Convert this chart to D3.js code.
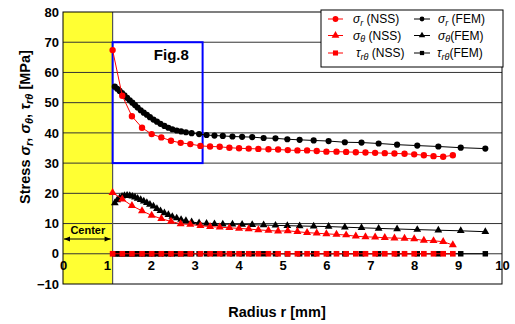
<!DOCTYPE html>
<html><head><meta charset="utf-8">
<script src="https://cdn.jsdelivr.net/npm/d3@7"></script>
<style>
body{margin:0;background:#fff}
svg text{font-family:"Liberation Sans",Arial,Helvetica,sans-serif}
</style>
</head><body>
<svg id="c" width="515" height="324"></svg>
<script>
// ---- data ----
const nssR = [1.13,1.35,1.57,1.80,2.02,2.24,2.46,2.68,2.90,3.13,3.35,3.57,3.79,4.01,4.23,4.45,4.68,4.90,5.12,5.34,5.56,5.78,6.00,6.23,6.45,6.67,6.89,7.11,7.33,7.55,7.78,8.00,8.22,8.44,8.66,8.88];
const nssSigmaR = [67.4,52.3,45.5,41.7,39.6,38.5,37.4,36.7,36.3,35.7,35.5,35.4,35.1,34.9,34.8,34.7,34.6,34.5,34.3,34.2,34.2,34.0,33.8,33.8,33.7,33.6,33.5,33.4,33.3,33.2,33.1,32.9,32.6,32.3,32.1,32.6];
const nssSigmaT = [20.2,18.1,15.9,14.2,12.7,11.6,10.7,9.9,9.7,9.3,9.0,8.8,8.6,8.4,8.2,7.9,7.7,7.5,7.6,7.3,7.0,6.8,6.6,6.4,6.2,5.8,5.6,5.5,5.3,5.2,5.1,4.9,4.4,4.3,4.0,2.9];
const nssTau = [0,0,0,0,0,0,0,0,0,0,0,0,0,0,0,0,0,0,0,0,0,0,0,0,0,0,0,0,0,0,0,0,0,0,0,0];

const femR = [1.18,1.235,1.29,1.345,1.40,1.46,1.52,1.58,1.64,1.70,1.77,1.84,1.91,1.98,2.06,2.14,2.22,2.31,2.40,2.49,2.59,2.69,2.80,2.93,3.10,3.27,3.45,3.64,3.86,4.08,4.31,4.57,4.84,5.11,5.39,5.71,6.05,6.42,6.80,7.19,7.61,8.07,8.55,9.06,9.62];
const femSigmaR = [55.3,54.6,53.9,53.2,52.4,51.6,50.8,50.0,49.2,48.4,47.5,46.7,46.0,45.2,44.4,43.7,43.0,42.3,41.7,41.2,40.8,40.5,40.2,39.9,39.6,39.3,39.1,39.0,38.8,38.7,38.6,38.3,38.2,37.9,37.7,37.5,37.3,36.9,36.8,36.5,36.1,35.8,35.5,35.1,34.8];
const femSigmaT = [16.8,17.8,18.5,19.0,19.2,19.3,19.2,19.0,18.7,18.3,17.9,17.4,16.9,16.3,15.7,14.9,14.2,13.5,12.9,12.3,11.8,11.3,10.9,10.5,10.2,10.0,9.9,9.8,9.8,9.7,9.6,9.5,9.4,9.3,9.2,9.1,9.0,8.8,8.6,8.4,8.2,8.0,7.8,7.6,7.3];
const femTau = [0,0,0,0,0,0,0,0,0,0,0,0,0,0,0,0,0,0,0,0,0,0,0,0,0,0,0,0,0,0,0,0,0,0,0,0,0,0,0,0,0,0,0,0,0];

const xTicks = [0,1,2,3,4,5,6,7,8,9,10];
const yTicks = [-10,0,10,20,30,40,50,60,70,80];
const gridValues = [0,10,20,30,40,50,60,70];
const centerEdge = 1.13;
const zoomBox = {r0:1.13, r1:3.18, s0:30, s1:70};

// ---- scales ----
const svg = d3.select('#c');
const x = d3.scaleLinear().domain([0,10]).range([63,502]);
const y = d3.scaleLinear().domain([-10,80]).range([284,12]);

// yellow center region
svg.append('rect').attr('x',x(0)).attr('y',y(80)).attr('width',x(centerEdge)-x(0)).attr('height',y(-10)-y(80)).attr('fill','#ffff33');

// gridlines
svg.append('g').selectAll('line').data(gridValues).join('line')
  .attr('x1',x(0)).attr('x2',x(10)).attr('y1',d=>y(d)).attr('y2',d=>y(d))
  .attr('stroke','#333').attr('stroke-width',1);

// center boundary line
svg.append('line').attr('x1',x(centerEdge)).attr('x2',x(centerEdge)).attr('y1',y(80)).attr('y2',y(-10)).attr('stroke','#555').attr('stroke-width',1.2);

// frame
svg.append('rect').attr('x',x(0)).attr('y',y(80)).attr('width',x(10)-x(0)).attr('height',y(-10)-y(80)).attr('fill','none').attr('stroke','#000').attr('stroke-width',1);

// y axis
const yAxis = svg.append('g').attr('transform',`translate(${x(0)},0)`)
  .call(d3.axisLeft(y).tickValues(yTicks).tickSize(0).tickPadding(4));
yAxis.select('.domain').remove();
yAxis.selectAll('text').attr('font-size',13).attr('font-weight','bold').attr('fill','#000');

// x axis (labels along zero line)
const xAxis = svg.append('g').attr('transform',`translate(0,${y(0)})`)
  .call(d3.axisBottom(x).tickValues(xTicks).tickSize(0).tickPadding(7).tickFormat(d3.format('d')));
xAxis.select('.domain').remove();
xAxis.selectAll('text').attr('font-size',13).attr('font-weight','bold').attr('fill','#000');

// blue zoom box
svg.append('rect').attr('x',x(zoomBox.r0)).attr('y',y(zoomBox.s1))
  .attr('width',x(zoomBox.r1)-x(zoomBox.r0)).attr('height',y(zoomBox.s0)-y(zoomBox.s1))
  .attr('fill','none').attr('stroke','#0000ff').attr('stroke-width',2);
svg.append('text').attr('x',x(2.07)).attr('y',60).attr('font-size',15).attr('font-weight','bold').text('Fig.8');

// center annotation
svg.append('text').attr('x',(x(0)+x(centerEdge))/2).attr('y',234).attr('text-anchor','middle').attr('font-size',11).attr('font-weight','bold').text('Center');
const ay = 239;
svg.append('line').attr('x1',x(0)+1).attr('x2',x(centerEdge)-2).attr('y1',ay).attr('y2',ay).attr('stroke','#000').attr('stroke-width',1);
svg.append('path').attr('d',`M${x(0)+1},${ay} l6,-2.5 l0,5 Z M${x(centerEdge)-2},${ay} l-6,-2.5 l0,5 Z`).attr('fill','#000');

// series
const line = d3.line().x(d=>x(d[0])).y(d=>y(d[1]));
function series(rs, vs, color, shape, size){
  const pts = rs.map((r,i)=>[r,vs[i]]);
  const g = svg.append('g');
  g.append('path').attr('d',line(pts)).attr('fill','none').attr('stroke',color).attr('stroke-width',1);
  g.selectAll('path.m').data(pts).join('path').attr('class','m')
    .attr('transform',d=>`translate(${x(d[0])},${y(d[1])})`)
    .attr('d',d3.symbol().type(shape).size(size)).attr('fill',color);
}
series(femR, femSigmaR, '#000', d3.symbolCircle, 30);
series(femR, femSigmaT, '#000', d3.symbolTriangle, 26);
series(femR, femTau, '#000', d3.symbolSquare, 30);
series(nssR, nssSigmaR, '#ff0000', d3.symbolCircle, 32);
series(nssR, nssSigmaT, '#ff0000', d3.symbolTriangle, 28);
series(nssR, nssTau, '#ff0000', d3.symbolSquare, 32);

// axis titles
const yt = svg.append('text').attr('transform','translate(30,127) rotate(-90)').attr('text-anchor','middle')
  .attr('font-size',14.5).attr('font-weight','bold');
function rich(t, parts, sub){
  parts.forEach(p=>{
    const ts = t.append('tspan').text(p.t);
    if(p.it) ts.attr('font-style','italic');
    if(p.sub){ ts.attr('dy',sub).attr('font-size','0.75em'); }
    if(p.back){ ts.attr('dy',-sub); }
  });
}
rich(yt,[{t:'Stress '},{t:'σ',it:true},{t:'r',it:true,sub:true},{t:', ',back:true},{t:'σ',it:true},{t:'θ',it:true,sub:true},{t:', ',back:true},{t:'τ',it:true},{t:'rθ',it:true,sub:true},{t:' [MPa]',back:true}],3);

svg.append('text').attr('x',277).attr('y',317).attr('text-anchor','middle').attr('font-size',14.5).attr('font-weight','bold').text('Radius r [mm]');

// legend
const lg = svg.append('g');
lg.append('rect').attr('x',321).attr('y',10).attr('width',182).attr('height',57).attr('fill','#fff').attr('stroke','#000').attr('stroke-width',1);
const legendRows = [
  {y:19, sym:d3.symbolCircle, n:[{t:'σ',it:true},{t:'r',it:true,sub:true},{t:' (NSS)',back:true}], f:[{t:'σ',it:true},{t:'r',it:true,sub:true},{t:' (FEM)',back:true}]},
  {y:35.5, sym:d3.symbolTriangle, n:[{t:'σ',it:true},{t:'θ',it:true,sub:true},{t:'  (NSS)',back:true}], f:[{t:'σ',it:true},{t:'θ',it:true,sub:true},{t:'(FEM)',back:true}]},
  {y:53, sym:d3.symbolSquare, n:[{t:'τ',it:true},{t:'rθ',it:true,sub:true},{t:' (NSS)',back:true}], f:[{t:'τ',it:true},{t:'rθ',it:true,sub:true},{t:'(FEM)',back:true}]}
];
legendRows.forEach(r=>{
  lg.append('line').attr('x1',328).attr('x2',343).attr('y1',r.y).attr('y2',r.y).attr('stroke','#ff0000');
  lg.append('path').attr('transform',`translate(335.5,${r.y})`).attr('d',d3.symbol().type(r.sym).size(26)).attr('fill','#ff0000');
  const t1 = lg.append('text').attr('x',r.sym===d3.symbolSquare?356:353).attr('y',r.y+4).attr('font-size',12);
  rich(t1,r.n,2.5);
  lg.append('line').attr('x1',414).attr('x2',430).attr('y1',r.y).attr('y2',r.y).attr('stroke','#000');
  lg.append('path').attr('transform',`translate(422,${r.y})`).attr('d',d3.symbol().type(r.sym).size(18)).attr('fill','#000');
  const t2 = lg.append('text').attr('x',r.sym===d3.symbolSquare?437:438).attr('y',r.y+4).attr('font-size',12);
  rich(t2,r.f,2.5);
});
</script>
</body></html>
